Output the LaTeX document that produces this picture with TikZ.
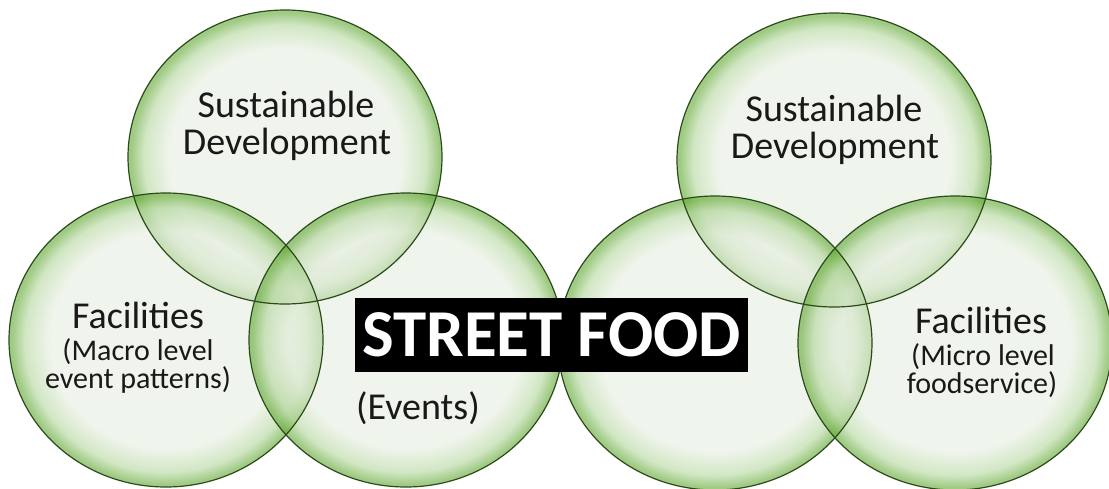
\documentclass[tikz,border=0pt]{standalone}
\usepackage{fontspec}
\setmainfont{Carlito}
\usepackage{tikz}
\definecolor{eeffdd}{rgb}{0.900,0.930,0.875}
\definecolor{ccddbb}{rgb}{0.700,0.840,0.610}
\definecolor{aacc77}{rgb}{0.380,0.660,0.200}
\definecolor{qqttqq}{rgb}{0.17,0.29,0.10}
\definecolor{wqwqwq}{rgb}{0.10,0.10,0.10}
\pgfdeclareradialshading{bubble}{\pgfpoint{0bp}{0bp}}{color(0bp)=(eeffdd); color(18.5bp)=(eeffdd); color(22.5bp)=(ccddbb); color(24.5bp)=(aacc77); color(25bp)=(aacc77); color(50bp)=(aacc77)}
\tikzset{
  bubfill/.style={shading=bubble,fill opacity=0.6},
  bubline/.style={line width=1.2pt,color=qqttqq},
  biglbl/.style={anchor=base,text=wqwqwq,inner sep=0pt,font=\fontsize{38}{38}\selectfont},
  smalllbl/.style={anchor=base,text=wqwqwq,inner sep=0pt,font=\fontsize{30}{30}\selectfont},
  streetbox/.style={fill=black,text=white,inner sep=0pt,minimum width=393pt,minimum height=74pt,font=\fontsize{67}{67}\selectfont\bfseries}
}

\begin{document}
\begin{tikzpicture}[line cap=round,line join=round,x=1pt,y=-1pt]
\useasboundingbox (0,0) rectangle (1109,488);
\clip (0,0) rectangle (1109,488);
% left bubbles
\shade[bubfill] (285,157) ellipse (157 and 147);
\shade[bubfill] (166,340) ellipse (157 and 147);
\shade[bubfill] (406,340) ellipse (157 and 147);
% right bubbles
\shade[bubfill] (834,160) ellipse (157 and 147);
\shade[bubfill] (715,343) ellipse (157 and 147);
\shade[bubfill] (955,343) ellipse (157 and 147);
% outlines
\draw[bubline] (285,157) ellipse (157 and 147);
\draw[bubline] (166,340) ellipse (157 and 147);
\draw[bubline] (406,340) ellipse (157 and 147);
\draw[bubline] (834,160) ellipse (157 and 147);
\draw[bubline] (715,343) ellipse (157 and 147);
\draw[bubline] (955,343) ellipse (157 and 147);
% labels
\node[biglbl] (sdla) at (286,117) {Sustainable};
\node[biglbl] (sdlb) at (287,154) {Development};
\node[biglbl] (facl) at (138,328) {Facilities};
\node[smalllbl] (macroa) at (138,360) {(Macro level};
\node[smalllbl] (macrob) at (138,388) {event patterns)};
\node[biglbl] (events) at (418,419) {(Events)};
\node[biglbl] (sdra) at (834,121) {Sustainable};
\node[biglbl] (sdrb) at (835,158) {Development};
\node[biglbl] (facr) at (981,333) {Facilities};
\node[smalllbl] (microa) at (983,365) {(Micro level};
\node[smalllbl] (microb) at (982,393) {foodservice)};
\node[streetbox] (street) at (551.5,335) {STREET FOOD};
\end{tikzpicture}
\end{document}
